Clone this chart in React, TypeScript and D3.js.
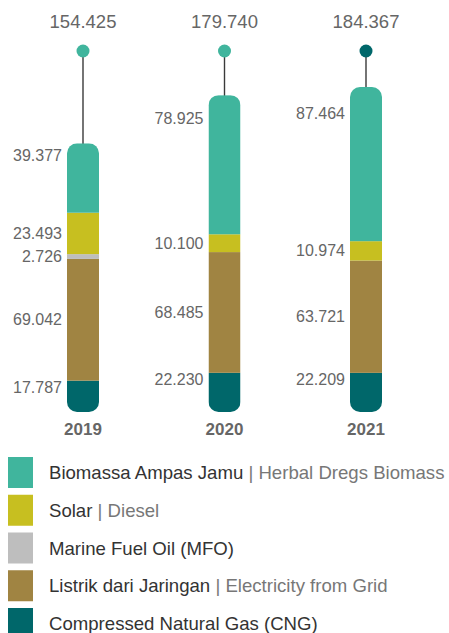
import React from "react";
import * as d3 from "d3";

const years = ["2019", "2020", "2021"];
const totals = [154.425, 179.74, 184.367];
const biomass = [39.377, 78.925, 87.464];
const solar = [23.493, 10.1, 10.974];
const mfo = [2.726, 0, 0];
const grid = [69.042, 68.485, 63.721];
const cng = [17.787, 22.23, 22.209];

const seriesKeys = ["cng", "grid", "mfo", "solar", "biomass"];
const legendMain = [
  "Biomassa Ampas Jamu",
  "Solar",
  "Marine Fuel Oil (MFO)",
  "Listrik dari Jaringan",
  "Compressed Natural Gas (CNG)",
];
const legendSub = ["Herbal Dregs Biomass", "Diesel", "", "Electricity from Grid", ""];
const legendKeys = ["biomass", "solar", "mfo", "grid", "cng"];

const COLORS: Record<string, string> = {
  biomass: "#40b59d",
  solar: "#c7bf20",
  mfo: "#bebebe",
  grid: "#a08442",
  cng: "#00676a",
};
const markerColors = [COLORS.biomass, COLORS.biomass, COLORS.cng];

const W = 449;
const H = 633;
const FONT = "'Liberation Sans', Arial, Helvetica, sans-serif";

export default function App() {
  const table = years.map((y, i) => ({
    year: y,
    cng: cng[i],
    grid: grid[i],
    mfo: mfo[i],
    solar: solar[i],
    biomass: biomass[i],
  }));
  const stack = d3.stack<any>().keys(seriesKeys)(table);
  const x = d3.scalePoint<string>().domain(years).range([83, 366]);
  const maxSum = d3.max(table, (d) => d.cng + d.grid + d.mfo + d.solar + d.biomass) as number;
  const y = d3.scaleLinear().domain([0, maxSum]).range([412, 87]);
  const bw = 32;
  const fmt = d3.format(".3f");

  return (
    <svg
      width={W}
      height={H}
      viewBox={`0 0 ${W} ${H}`}
      style={{ position: "absolute", left: 0, top: 0, fontFamily: FONT }}
    >
      <defs>
        {years.map((yr, i) => {
          const top = y(table[i].cng + table[i].grid + table[i].mfo + table[i].solar + table[i].biomass);
          return (
            <clipPath id={`clip-${yr}`} key={yr}>
              <rect x={(x(yr) as number) - bw / 2} y={top} width={bw} height={y(0) - top} rx={10} ry={10} />
            </clipPath>
          );
        })}
      </defs>
      {years.map((yr, i) => {
        const cx = x(yr) as number;
        const top = y(table[i].cng + table[i].grid + table[i].mfo + table[i].solar + table[i].biomass);
        return (
          <g key={yr}>
            <text x={cx} y={27.5} textAnchor="middle" fontSize={18.5} fill="#666">
              {fmt(totals[i])}
            </text>
            <line x1={cx} x2={cx} y1={51} y2={top + 1} stroke="#3a3a3a" strokeWidth={1.4} />
            <circle cx={cx} cy={51} r={6.5} fill={markerColors[i]} />
            <g clipPath={`url(#clip-${yr})`}>
              {stack.map((s) => {
                const d = s[i];
                const y0 = y(d[1]);
                const y1 = y(d[0]);
                return (
                  <rect
                    key={s.key}
                    x={cx - bw / 2}
                    y={y0}
                    width={bw}
                    height={Math.max(0, y1 - y0)}
                    fill={COLORS[s.key]}
                  />
                );
              })}
            </g>
            {stack.map((s) => {
              const d = s[i];
              const v = d[1] - d[0];
              if (v <= 0) return null;
              const y0 = y(d[1]);
              const y1 = y(d[0]);
              const h = y1 - y0;
              let ly = (y0 + y1) / 2;
              if (s.key === "biomass") ly = y0 + 0.17 * h;
              if (s.key === "cng") ly = y0 + 7;
              return (
                <text
                  key={s.key}
                  x={cx - bw / 2 - 5}
                  y={ly + 5.5}
                  textAnchor="end"
                  fontSize={16}
                  fill="#666"
                >
                  {fmt(v)}
                </text>
              );
            })}
            <text x={cx} y={435} textAnchor="middle" fontSize={17} fontWeight="bold" fill="#666">
              {yr}
            </text>
          </g>
        );
      })}
      {legendKeys.map((k, i) => {
        const sy = 457 + i * 37.75;
        return (
          <g key={k}>
            <rect x={8} y={sy} width={25} height={31} fill={COLORS[k]} />
            <text x={49} y={sy + 15.5 + 6.5} fontSize={18.6} fill="#333">
              {legendMain[i]}
              {legendSub[i] ? (
                <tspan fill="#777">{" | " + legendSub[i]}</tspan>
              ) : null}
            </text>
          </g>
        );
      })}
    </svg>
  );
}
